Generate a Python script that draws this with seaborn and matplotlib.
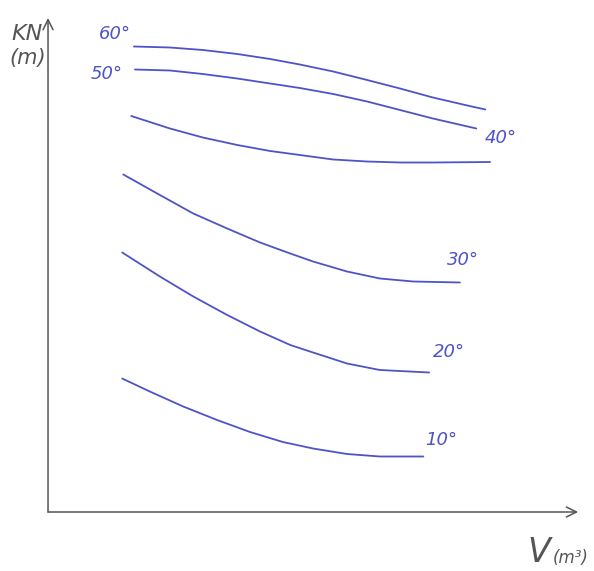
import matplotlib
matplotlib.use("Agg")
import matplotlib.pyplot as plt
import seaborn as sns
import pandas as pd

# KN cross curves: righting lever KN (m) against displacement volume V (m^3)
angles = ["10°", "20°", "30°", "40°", "50°", "60°"]

v_10 = [1.40, 1.92, 2.55, 3.19, 3.81, 4.43, 5.00, 5.64, 6.26, 7.08]
kn_10 = [2.67, 2.41, 2.11, 1.84, 1.60, 1.40, 1.27, 1.16, 1.11, 1.11]

v_20 = [1.40, 2.11, 2.74, 3.38, 4.00, 4.57, 5.00, 5.64, 6.26, 7.19]
kn_20 = [5.19, 4.71, 4.31, 3.94, 3.61, 3.34, 3.19, 2.97, 2.84, 2.79]

v_30 = [1.42, 2.11, 2.74, 3.38, 4.00, 4.57, 5.00, 5.64, 6.26, 6.89, 7.77]
kn_30 = [6.75, 6.34, 5.97, 5.67, 5.39, 5.17, 5.01, 4.81, 4.67, 4.61, 4.59]

v_40 = [1.57, 2.30, 2.92, 3.57, 4.19, 4.75, 5.38, 6.02, 6.64, 7.26, 8.34]
kn_40 = [7.92, 7.67, 7.49, 7.34, 7.22, 7.14, 7.05, 7.01, 6.99, 6.99, 7.00]

v_50 = [1.64, 2.30, 2.92, 3.57, 4.19, 4.75, 5.38, 6.02, 6.64, 7.26, 8.08]
kn_50 = [8.85, 8.83, 8.76, 8.67, 8.57, 8.48, 8.36, 8.21, 8.04, 7.87, 7.67]

v_60 = [1.62, 2.30, 2.92, 3.57, 4.19, 4.75, 5.38, 6.02, 6.64, 7.26, 7.91, 8.25]
kn_60 = [9.31, 9.29, 9.24, 9.16, 9.06, 8.95, 8.81, 8.64, 8.47, 8.29, 8.13, 8.05]

series_v = [v_10, v_20, v_30, v_40, v_50, v_60]
series_kn = [kn_10, kn_20, kn_30, kn_40, kn_50, kn_60]

rows = []
for ang, vs, ks in zip(angles, series_v, series_kn):
    for v, k in zip(vs, ks):
        rows.append({"angle": ang, "V": v, "KN": k})
df = pd.DataFrame(rows)

sns.set_theme(style="white")
plt.rcParams["font.family"] = ["DejaVu Sans"]

pen = "#4f53c8"
axis_col = "#555555"

fig = plt.figure(figsize=(5.94, 5.71), dpi=100)
ax = fig.add_axes([0, 0, 1, 1])

sns.lineplot(data=df, x="V", y="KN", hue="angle", units="angle",
             estimator=None, sort=False, palette=[pen] * len(angles),
             linewidth=1.3, legend=False, ax=ax,
             solid_joinstyle="round", solid_capstyle="round")

ax.set_xlim(-0.906, 10.30)
ax.set_ylim(-1.18, 10.24)
for s in ax.spines.values():
    s.set_visible(False)
ax.set_xticks([])
ax.set_yticks([])
ax.set_xlabel("")
ax.set_ylabel("")

# axes drawn as hand-sketched arrows
ax.annotate("", xy=(10.0, 0), xytext=(0, 0),
            arrowprops=dict(arrowstyle="->", color=axis_col, lw=1.1,
                            mutation_scale=18, shrinkA=0, shrinkB=0))
ax.annotate("", xy=(0, 9.88), xytext=(0, 0),
            arrowprops=dict(arrowstyle="->", color=axis_col, lw=1.1,
                            mutation_scale=18, shrinkA=0, shrinkB=0))

txt = dict(fontstyle="italic", fontweight="light")

ax.text(-0.7, 9.55, "KN", color=axis_col, fontsize=16, ha="left", va="center", **txt)
ax.text(-0.72, 9.08, "(m)", color=axis_col, fontsize=15, ha="left", va="center", **txt)
ax.text(9.05, -0.8, "V", color=axis_col, fontsize=24, ha="left", va="center", **txt)
ax.text(9.52, -0.92, "(m³)", color=axis_col, fontsize=12, ha="left", va="center", **txt)

# angle labels next to the curves
label_pos = {
    "60°": (v_60[0], kn_60[0], -2, 9, "right"),
    "50°": (v_50[0], kn_50[0], -9, -3, "right"),
    "40°": (v_40[-1], kn_40[-1], -4, 17, "left"),
    "30°": (v_30[-1], kn_30[-1], -9, 16, "left"),
    "20°": (v_20[-1], kn_20[-1], 3, 15, "left"),
    "10°": (v_10[-1], kn_10[-1], 1.5, 12, "left"),
}
for ang, (x, y, dx, dy, ha) in label_pos.items():
    ax.annotate(ang, xy=(x, y), xytext=(dx, dy), textcoords="offset points",
                color=pen, fontsize=13, ha=ha, va="center", **txt)

fig.savefig("out.png", dpi=100, facecolor="white")
